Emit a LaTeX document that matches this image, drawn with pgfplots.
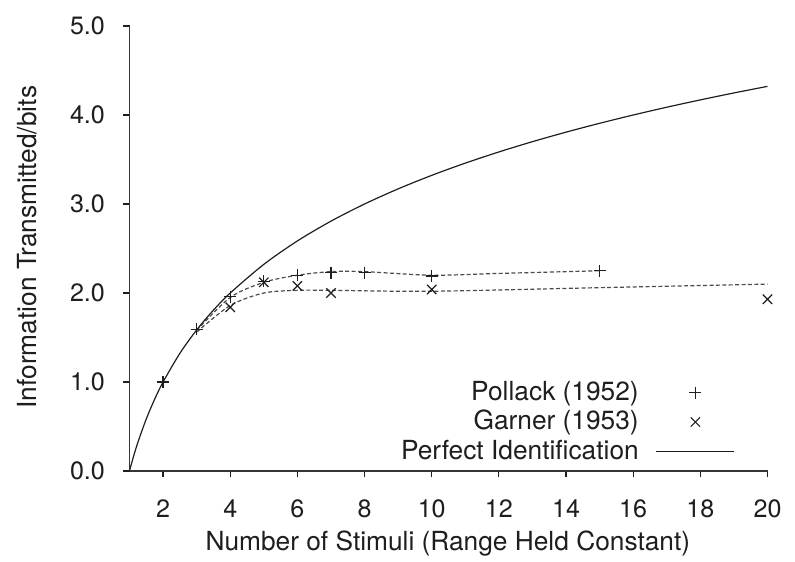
\documentclass[border=0pt]{standalone}
\usepackage{fontspec}
\setmainfont{TeX Gyre Heros}
\usepackage{pgfplots}
\pgfplotsset{compat=1.18}
\definecolor{ink}{HTML}{1E1E1E}
\pgfplotsset{
  markleg/.style={legend image code/.code={\draw[##1] plot coordinates {(19.5bp,0bp)};}},
  lineleg/.style={legend image code/.code={\draw[##1] (0bp,0bp) -- (39bp,0bp);}},
}
\begin{document}
\fontsize{13.2}{15.5}\selectfont
\begin{tikzpicture}
\begin{axis}[at={(0,0)}, anchor=south west, scale only axis, width=319bp, height=222.5bp,
  xmin=1, xmax=20, ymin=0, ymax=5,
  axis x line*=bottom, axis y line*=left,
  axis line style={line width=0.7pt, color=ink!90, -},
  xtick={2,4,...,20}, ytick={0,1,...,5},
  tick align=outside, major tick length=3.2bp,
  tick style={line width=0.6pt, color=ink},
  /pgf/number format/assume math mode=true,
  yticklabel={\pgfmathprintnumber[fixed,fixed zerofill,precision=1]{\tick}},
  ticklabel style={font=\fontsize{12.6}{15}\selectfont, text=ink},
  xticklabel style={yshift=-6.5bp},
  yticklabel style={xshift=-4.5bp},
  xlabel={Number of Stimuli (Range Held Constant)},
  ylabel={Information Transmitted/bits},
  xlabel style={at={([yshift=-36.5bp]rel axis cs:0.499,0)}, anchor=center, text=ink,
    font=\fontsize{13.2}{15.5}\selectfont},
  ylabel style={at={([xshift=-51bp]rel axis cs:0,0.503)}, anchor=center, text=ink,
    font=\fontsize{13.2}{15.5}\selectfont},
  legend cell align=right, legend plot pos=right,
  legend style={draw=none, fill=none, inner sep=0pt, outer sep=0pt,
    at={([yshift=2.5bp]rel axis cs:0.949,0)}, anchor=south east,
    font=\fontsize{13.2}{15.5}\selectfont, text=ink, row sep=0bp, column sep=7bp,
    nodes={inner sep=1.5bp}},
]
% fitted dashed curves
\addplot[forget plot, smooth, ink!80, line width=0.6pt, dash pattern=on 2bp off 1.2bp]
  coordinates {(3,1.58) (4,1.95) (5,2.12) (6,2.20) (7,2.24) (8,2.24) (10,2.20) (12,2.22) (15,2.25)};
\addplot[forget plot, smooth, ink!80, line width=0.6pt, dash pattern=on 2bp off 1.2bp]
  coordinates {(3,1.56) (4,1.86) (5,2.00) (6,2.03) (7,2.03) (10,2.02) (15,2.06) (20,2.10)};
% data
\addplot[only marks, mark=+, mark size=3bp, ink, mark options={line width=0.6pt}, markleg]
  coordinates {(2,1.00) (3,1.59) (4,1.96) (5,2.13) (6,2.20) (7,2.23) (8,2.23) (10,2.19) (15,2.25)};
\addlegendentry{Pollack (1952)}
\addplot[only marks, mark=x, mark size=3.3bp, ink, mark options={line width=0.6pt}, markleg]
  coordinates {(4,1.84) (5,2.12) (6,2.08) (7,2.00) (10,2.04) (20,1.93)};
\addlegendentry{Garner (1953)}
\addplot[smooth, ink, line width=0.6pt, lineleg]
  coordinates {(1,0) (1.1,0.1375) (1.25,0.3219) (1.5,0.5850) (1.75,0.8074) (2,1) (2.5,1.3219)
   (3,1.5850) (3.5,1.8074) (4,2) (5,2.3219) (6,2.5850) (7,2.8074) (8,3) (9,3.1699)
   (10,3.3219) (11,3.4594) (12,3.5850) (13,3.7004) (14,3.8074) (15,3.9069) (16,4)
   (17,4.0875) (18,4.1699) (19,4.2479) (20,4.3219)};
\addlegendentry{Perfect Identification}
\end{axis}
\pgfresetboundingbox
\path (-64.75bp,-45.5bp) rectangle (332.75bp,235.5bp);
\end{tikzpicture}
\end{document}
